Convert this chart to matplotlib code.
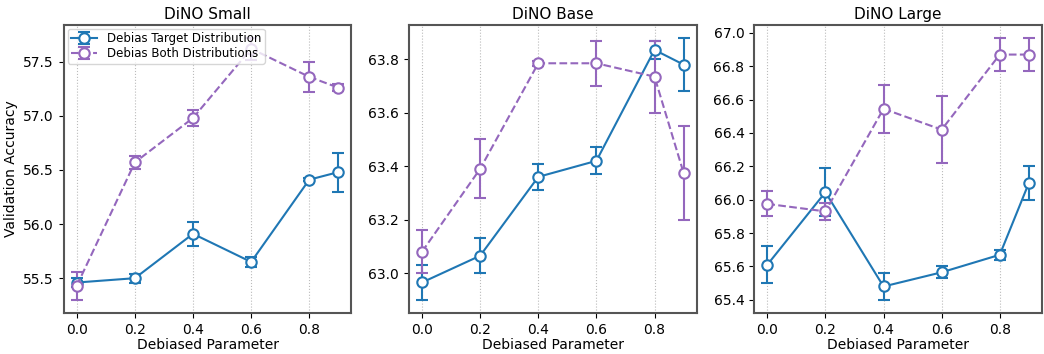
import matplotlib
matplotlib.use("Agg")
import matplotlib.pyplot as plt

x = [0.0, 0.2, 0.4, 0.6, 0.8, 0.9]

titles = ["DiNO Small", "DiNO Base", "DiNO Large"]

small_target = [55.46, 55.50, 55.91, 55.65, 56.41, 56.48]
small_target_err = [0.04, 0.04, 0.11, 0.05, 0.015, 0.18]
small_both = [55.43, 56.57, 56.98, 57.62, 57.36, 57.26]
small_both_err = [0.13, 0.06, 0.07, 0.10, 0.14, 0.03]

base_target = [62.965, 63.065, 63.36, 63.42, 63.835, 63.78]
base_target_err = [0.065, 0.065, 0.05, 0.05, 0.035, 0.10]
base_both = [63.08, 63.39, 63.785, 63.785, 63.735, 63.375]
base_both_err = [0.08, 0.11, 0.01, 0.085, 0.135, 0.175]

large_target = [65.61, 66.045, 65.48, 65.565, 65.67, 66.10]
large_target_err = [0.11, 0.145, 0.08, 0.035, 0.03, 0.10]
large_both = [65.975, 65.93, 66.545, 66.42, 66.87, 66.87]
large_both_err = [0.075, 0.05, 0.145, 0.20, 0.10, 0.10]

series = [
    (small_target, small_target_err, small_both, small_both_err),
    (base_target, base_target_err, base_both, base_both_err),
    (large_target, large_target_err, large_both, large_both_err),
]

blue = "#1f77b4"
purple = "#9467bd"

fig, axes = plt.subplots(1, 3, figsize=(10.44, 3.54), dpi=100)
fig.subplots_adjust(left=0.061, right=0.998, bottom=0.116, top=0.93, wspace=0.2)

for i, ax in enumerate(axes):
    t, te, b, be = series[i]
    ax.errorbar(x, t, yerr=te, color=blue, linestyle="-", linewidth=1.5,
                marker="o", markersize=7.5, markerfacecolor="white",
                markeredgewidth=1.5, capsize=4, capthick=1.5, elinewidth=1.5,
                label="Debias Target Distribution")
    ax.errorbar(x, b, yerr=be, color=purple, linestyle="--", linewidth=1.5,
                marker="o", markersize=7.5, markerfacecolor="white",
                markeredgewidth=1.5, capsize=4, capthick=1.5, elinewidth=1.5,
                label="Debias Both Distributions")
    ax.set_title(titles[i], fontsize=11, pad=4)
    ax.set_xlabel("Debiased Parameter", fontsize=10, labelpad=1)
    ax.set_xticks([0.0, 0.2, 0.4, 0.6, 0.8])
    ax.grid(axis="x", linestyle=":", color="#bbbbbb", linewidth=0.8)
    ax.tick_params(labelsize=10)
    for s in ax.spines.values():
        s.set_color("#555555")
        s.set_linewidth(1.5)
    if i == 0:
        ax.set_ylabel("Validation Accuracy", fontsize=10)
        ax.legend(loc="upper left", fontsize=8.5, borderaxespad=0.35,
                  handlelength=2.2, labelspacing=0.15, borderpad=0.3)

fig.savefig("out.png", dpi=100)
